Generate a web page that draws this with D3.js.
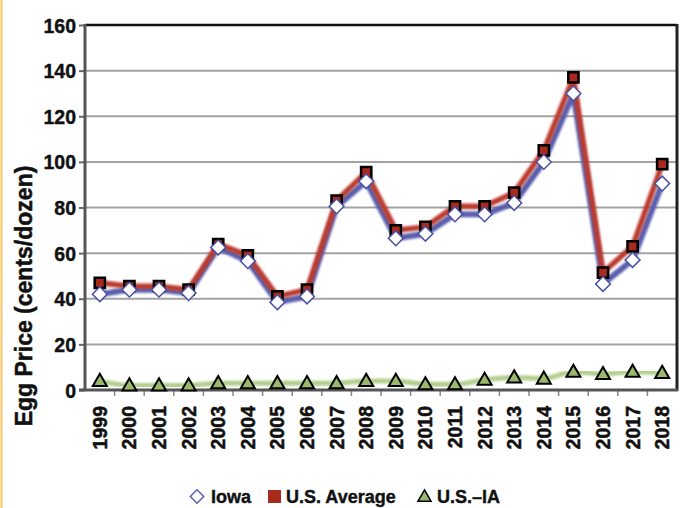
<!DOCTYPE html>
<html>
<head>
<meta charset="utf-8">
<script src="https://cdn.jsdelivr.net/npm/d3@7"></script>
<style>
  html, body { margin: 0; padding: 0; background: #fff; }
  svg { display: block; }
</style>
</head>
<body>
<svg id="chart" width="688" height="508"></svg>
<script>
const years = ["1999","2000","2001","2002","2003","2004","2005","2006","2007","2008","2009","2010","2011","2012","2013","2014","2015","2016","2017","2018"];
const iowa  = [42, 44, 44, 42.5, 62.5, 56.5, 38.5, 41, 80.5, 91.5, 66.5, 68.5, 77, 77, 82, 100, 130, 46.5, 57, 90.5];
const usAvg = [47, 45.5, 45.5, 44, 64, 59, 41, 44, 83, 95.5, 70, 71.5, 80.5, 80.5, 86.5, 105, 137, 51.5, 63, 99];
const usMinusIa = [4, 2, 2, 2, 3, 3, 3, 3, 3, 4, 4, 2.5, 2.5, 4.5, 5.5, 5, 8, 7, 8, 7.5];
const yTicks = [0, 20, 40, 60, 80, 100, 120, 140, 160];
const yLabel = "Egg Price (cents/dozen)";
const legendItems = ["Iowa", "U.S. Average", "U.S.\u2013IA"];

const svg = d3.select("#chart");
const L = 85, R = 677, T = 25, B = 390;

const x = d3.scaleBand().domain(years).range([L, R]).padding(0);
const y = d3.scaleLinear().domain([0, 160]).range([B, T]);
const cx = d => x(d) + x.bandwidth() / 2;

const defs = svg.append("defs");
defs.append("filter").attr("id", "soft").attr("x", "-5%").attr("y", "-5%").attr("width", "110%").attr("height", "110%")
  .append("feGaussianBlur").attr("stdDeviation", 0.9);
defs.append("filter").attr("id", "soft2")
  .append("feGaussianBlur").attr("stdDeviation", 0.5);

// left decorative yellow rule
svg.append("line").attr("x1", 1.5).attr("x2", 1.5).attr("y1", 0).attr("y2", 508)
  .attr("stroke", "#f8c463").attr("stroke-width", 2);

// gridlines
svg.append("g").attr("filter", "url(#soft2)")
  .selectAll("line").data(yTicks.filter(v => v > 0 && v < 160)).join("line")
  .attr("x1", L).attr("x2", R).attr("y1", d => y(d)).attr("y2", d => y(d))
  .attr("stroke", "#a3a3a3").attr("stroke-width", 2);

// y axis
const yAxis = svg.append("g").attr("transform", `translate(${L},0)`)
  .call(d3.axisLeft(y).tickValues(yTicks).tickSize(6).tickPadding(3).tickFormat(d3.format("d")));
yAxis.select(".domain").remove();
yAxis.selectAll(".tick line").attr("stroke", "#666").attr("stroke-width", 2);
yAxis.selectAll(".tick text")
  .attr("font-family", "Liberation Sans, Arial, sans-serif").attr("font-weight", "bold")
  .attr("font-size", 19.5).attr("fill", "#111").attr("stroke", "#111").attr("stroke-width", 0.4)
  .attr("dy", "0.36em");

// x axis
const xAxis = svg.append("g").attr("transform", `translate(0,${B})`)
  .call(d3.axisBottom(x).tickSize(0).tickPadding(0));
xAxis.select(".domain").remove();
xAxis.selectAll(".tick text")
  .attr("font-family", "Liberation Sans Narrow, Arial Narrow, sans-serif").attr("font-weight", "bold")
  .attr("font-size", 19.5).attr("fill", "#111").attr("stroke", "#111").attr("stroke-width", 0.5)
  .attr("transform", "rotate(-90)")
  .attr("text-anchor", "end").attr("x", -16).attr("y", 0).attr("dy", "0.36em");
// x tick marks at band boundaries
svg.append("g").selectAll("line").data(years.slice(1)).join("line")
  .attr("x1", d => x(d)).attr("x2", d => x(d)).attr("y1", B).attr("y2", B + 6)
  .attr("stroke", "#888").attr("stroke-width", 1.5);

// frame
svg.append("line").attr("x1", L).attr("x2", R).attr("y1", T).attr("y2", T).attr("stroke", "#111").attr("stroke-width", 2.5);
svg.append("line").attr("x1", R).attr("x2", R).attr("y1", T - 1).attr("y2", B + 1).attr("stroke", "#222").attr("stroke-width", 3);
svg.append("line").attr("x1", L).attr("x2", L).attr("y1", T - 1).attr("y2", B + 1).attr("stroke", "#555").attr("stroke-width", 3);
svg.append("line").attr("x1", L - 6).attr("x2", R + 1).attr("y1", B).attr("y2", B).attr("stroke", "#555").attr("stroke-width", 3);

// lines
const lineGen = d3.line().x((d, i) => cx(years[i])).y(d => y(d));
const smoothGen = d3.line().x((d, i) => cx(years[i])).y(d => y(d)).curve(d3.curveMonotoneX);

svg.append("path").datum(usMinusIa).attr("d", smoothGen)
  .attr("fill", "none").attr("stroke", "#9fc26e").attr("stroke-width", 5).attr("stroke-opacity", 0.8)
  .attr("filter", "url(#soft)");
svg.append("path").datum(iowa).attr("d", lineGen)
  .attr("fill", "none").attr("stroke", "#5a5fae").attr("stroke-width", 6).attr("stroke-linejoin", "round")
  .attr("filter", "url(#soft)");
svg.append("path").datum(usAvg).attr("d", lineGen)
  .attr("fill", "none").attr("stroke", "#bb3b2f").attr("stroke-width", 5.5).attr("stroke-linejoin", "round")
  .attr("filter", "url(#soft)");

// markers
const sq = d3.symbol().type(d3.symbolSquare).size(105);
const tri = d3.symbol().type(d3.symbolTriangle).size(85);
const dia = d3.symbol().type(d3.symbolSquare).size(110);

svg.append("g").selectAll("path").data(usMinusIa).join("path")
  .attr("d", tri).attr("transform", (d, i) => `translate(${cx(years[i])},${y(d) + 1})`)
  .attr("fill", "#9cb86b").attr("stroke", "#000").attr("stroke-width", 2).attr("stroke-linejoin", "miter");
svg.append("g").selectAll("path").data(usAvg).join("path")
  .attr("d", sq).attr("transform", (d, i) => `translate(${cx(years[i])},${y(d)})`)
  .attr("fill", "#a82a1d").attr("stroke", "#000").attr("stroke-width", 2.5);
svg.append("g").selectAll("path").data(iowa).join("path")
  .attr("d", dia)
  .attr("transform", (d, i) => `translate(${cx(years[i])},${y(d)}) rotate(45)`)
  .attr("fill", "#fff").attr("stroke", "#4a50a3").attr("stroke-width", 1.5);

// y label
svg.append("text")
  .attr("transform", `translate(32,296) rotate(-90)`)
  .attr("text-anchor", "middle")
  .attr("font-family", "Liberation Sans Narrow, Arial Narrow, sans-serif").attr("font-weight", "bold")
  .attr("font-size", 23).attr("fill", "#111").attr("stroke", "#111").attr("stroke-width", 0.5)
  .text(yLabel);

// legend
const lg = svg.append("g").attr("font-family", "Liberation Sans, Arial, sans-serif").attr("font-weight", "bold")
  .attr("font-size", 18).attr("fill", "#111");
const ly = 503;
lg.append("path").attr("d", d3.symbol().type(d3.symbolSquare).size(90))
  .attr("transform", `translate(197,${ly - 6.5}) rotate(45)`)
  .attr("fill", "#fff").attr("stroke", "#5a60aa").attr("stroke-width", 1.5);
lg.selectAll("text.lt").data([[211, 0], [286, 1], [437, 2]]).join("text")
  .attr("class", "lt").attr("x", d => d[0]).attr("y", ly)
  .attr("stroke", "#111").attr("stroke-width", 0.4)
  .text(d => legendItems[d[1]]);
lg.append("rect").attr("x", 268).attr("y", ly - 13).attr("width", 13).attr("height", 13).attr("fill", "#a82a1d");
lg.append("path").attr("d", d3.symbol().type(d3.symbolTriangle).size(75))
  .attr("transform", `translate(424.5,${ly - 5.5})`)
  .attr("fill", "#9cb86b").attr("stroke", "#000").attr("stroke-width", 1.5);
</script>
</body>
</html>
